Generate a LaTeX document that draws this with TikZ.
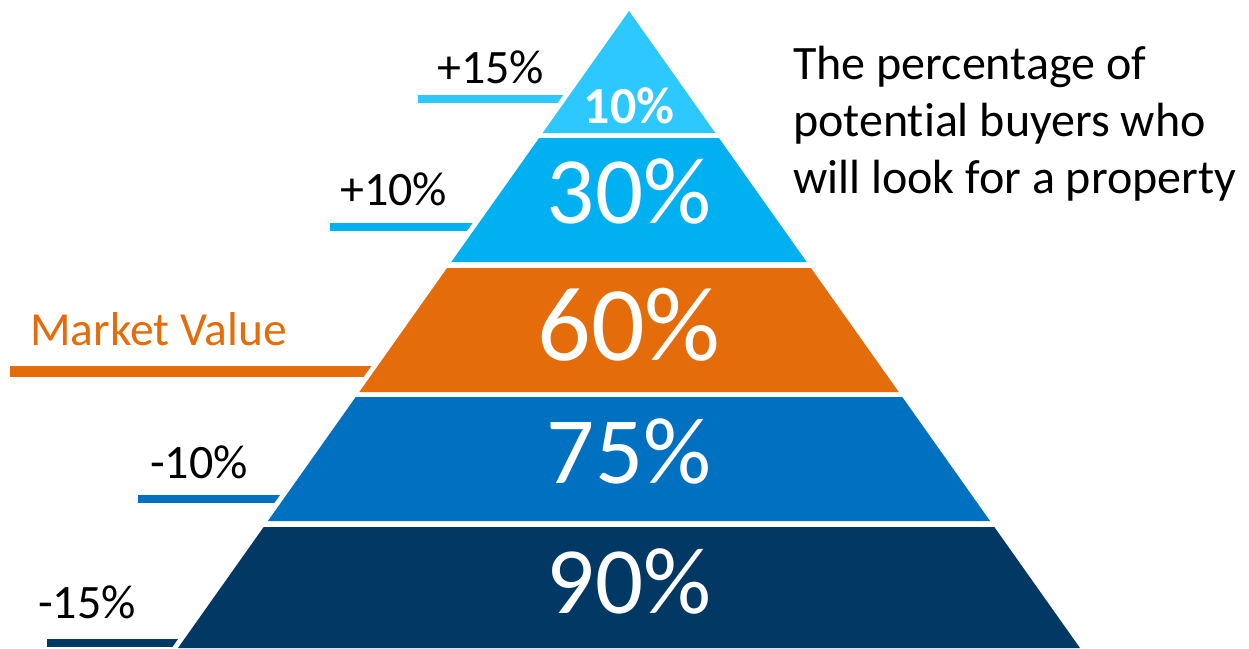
\documentclass[tikz,border=0pt]{standalone}
\usepackage{fontspec}
\setmainfont{Carlito}[Ligatures={NoCommon}]
\definecolor{cA}{RGB}{45,200,255}
\definecolor{cB}{RGB}{0,176,240}
\definecolor{cC}{RGB}{228,108,10}
\definecolor{cD}{RGB}{0,112,192}
\definecolor{cE}{RGB}{2,56,100}
\begin{document}
\begin{tikzpicture}[x=1pt,y=-1pt,
  lbl/.style={anchor=base west,inner sep=0pt,text=black,font=\fontsize{48}{56}\selectfont},
  pct/.style={anchor=base,inner sep=0pt,text=white,font=\fontsize{95}{110}\selectfont},
  rtxt/.style={anchor=base west,inner sep=0pt,text=black,font=\fontsize{48}{57}\selectfont}]
\useasboundingbox (0,0) rectangle (1249,648);
\clip (0,0) rectangle (1249,648);
% bars
\fill[cA] (418,95) rectangle (629,103);
\fill[cB] (330,223) rectangle (629,231);
\fill[cC] (10,366) rectangle (629,377);
\fill[cD] (138,495) rectangle (629,503);
\fill[cE] (47,639) rectangle (629,647);
% white halo of the pyramid
\filldraw[white,line width=10pt,line join=miter] (629,11) -- ({629-0.708*(648-11)},648) -- ({629+0.708*(648-11)},648) -- cycle;
% layers
\foreach \ya/\yb/\col in {11/133/cA,138/262/cB,268/392/cC,397/521/cD,527/648/cE}{
  \fill[\col] ({629-0.708*(\ya-11)},\ya) -- ({629+0.708*(\ya-11)},\ya) -- ({629+0.708*(\yb-11)},\yb) -- ({629-0.708*(\yb-11)},\yb) -- cycle;
}
% percentages
\node[pct,font=\fontsize{52}{60}\selectfont\bfseries] (p10) at (629,123) {10\%};
\node[pct] (p30) at (629,223) {30\%};
\node[pct,font=\fontsize{106}{120}\selectfont] (p60) at (629,360) {60\%};
\node[pct] (p75) at (629,483) {75\%};
\node[pct] (p90) at (629,613) {90\%};
% left labels
\node[lbl] (l15) at (437,83) {+15\%};
\node[lbl] (l10) at (340,205) {+10\%};
\node[lbl,text=cC,font=\fontsize{47.5}{55}\selectfont] (mv) at (30,345) {Market Value};
\node[lbl] (m10) at (150,478) {-10\%};
\node[lbl] (m15) at (38,618) {-15\%};
% right text
\node[rtxt] (t1) at (793,79) {The percentage of};
\node[rtxt] (t2) at (793,136) {potential buyers who};
\node[rtxt] (t3) at (793,193) {will look for a property};
\end{tikzpicture}
\end{document}
